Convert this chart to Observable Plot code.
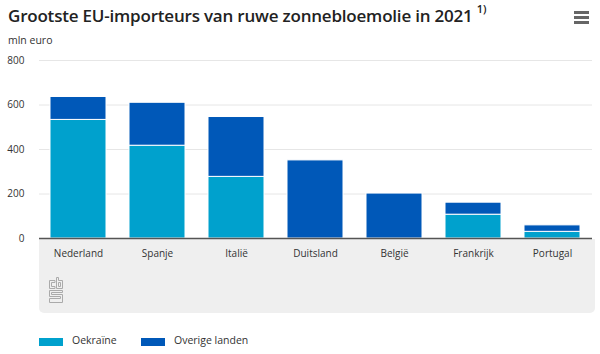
<!DOCTYPE html>
<html>
<head>
<meta charset="utf-8">
<script src="https://cdn.jsdelivr.net/npm/d3@7"></script>
<script src="https://cdn.jsdelivr.net/npm/@observablehq/plot@0.6"></script>
<style>
  body { margin: 0; background: #fff; font-family: "Open Sans", sans-serif; }
  #wrap { position: relative; width: 600px; height: 354px; overflow: hidden; }
  #title { position: absolute; left: 8px; top: 3px; font-size: 17px; font-weight: 600; color: #222; letter-spacing: -0.2px; white-space: nowrap; }
  #title sup { font-size: 11px; position: relative; top: -2px; }
  #sub { position: absolute; left: 8px; top: 33px; font-size: 10.5px; color: #333; }
  #menu { position: absolute; left: 574px; top: 11px; width: 15px; }
  #menu div { height: 3px; background: #666; margin-bottom: 2px; }
  #grey { position: absolute; left: 39px; top: 239px; width: 556px; height: 74px; background: #efefef; border-radius: 0 0 5px 5px; }
  #logo { position: absolute; left: 48px; top: 277px; }
  #chart { position: absolute; left: 0; top: 50px; }
  #legend { position: absolute; left: 0; top: 333px; width: 600px; height: 16px; font-size: 10.5px; color: #333; }
  #legend .sw { position: absolute; top: 5px; width: 24px; height: 8px; }
  #legend .lab { position: absolute; top: 0; white-space: nowrap; }
</style>
</head>
<body>
<div id="wrap">
  <div id="title">Grootste EU-importeurs van ruwe zonnebloemolie in 2021 <sup>1)</sup></div>
  <div id="sub">mln euro</div>
  <div id="menu"><div></div><div></div><div></div></div>
  <div id="grey"></div>
  <svg id="logo" width="16" height="26" viewBox="0 0 16 26" fill="none" stroke="#aaa" stroke-width="1">
    <path d="M7 3.5 H1.5 V11.5 H7 V9.5 H3.5 V5.5 H7 Z"/>
    <path d="M8.5 0.5 H10.5 V3.5 H14.5 V11.5 H8.5 Z M10.5 5.5 V9.5 H12.5 V5.5 Z"/>
    <path d="M14.5 13.5 H1.5 V19.5 H12.5 V21.5 H1.5 V25.5 H14.5 V17.5 H3.5 V15.5 H14.5 Z"/>
  </svg>
  <div id="chart"></div>
  <div id="legend"></div>
</div>
<script>
const countries = ["Nederland", "Spanje", "Italië", "Duitsland", "België", "Frankrijk", "Portugal"];
const oekraine = [533, 417, 277, 0, 0, 107, 30];
const overige = [103, 193, 269, 351, 202, 54, 29];
const seriesNames = ["Oekraïne", "Overige landen"];
const seriesColors = ["#00a1cd", "#0058b8"];
const yTicks = [0, 200, 400, 600, 800];

const data = [];
countries.forEach((c, i) => {
  data.push({country: c, series: seriesNames[0], value: oekraine[i]});
  data.push({country: c, series: seriesNames[1], value: overige[i]});
});

const plot = Plot.plot({
  width: 600,
  height: 280,
  marginTop: 10,
  marginBottom: 92,
  marginLeft: 39,
  marginRight: 8,
  style: {fontFamily: "Open Sans, sans-serif", fontSize: "10px", color: "#333", background: "transparent"},
  x: {domain: countries, paddingInner: 0.29, paddingOuter: 0.14, label: null},
  y: {domain: [0, 800], label: null},
  color: {domain: seriesNames, range: seriesColors},
  marks: [
    Plot.ruleY(yTicks.filter(d => d > 0), {stroke: "#e6e6e6", strokeWidth: 1}),
    Plot.barY(data, Plot.stackY({x: "country", y: "value", fill: "series", stroke: "#fff", strokeWidth: 1, order: seriesNames})),
    Plot.ruleY([0], {stroke: "#555", strokeWidth: 1.5}),
    Plot.axisY({ticks: yTicks, tickSize: 0, tickPadding: 15, tickFormat: d => d, fontSize: 10}),
    Plot.axisX({tickSize: 0, tickPadding: 11, fontSize: 10})
  ]
});
document.getElementById("chart").appendChild(plot);

const legend = document.getElementById("legend");
const legendX = [39, 141];
seriesNames.forEach((s, i) => {
  const sw = document.createElement("span");
  sw.className = "sw";
  sw.style.left = legendX[i] + "px";
  sw.style.background = seriesColors[i];
  const lab = document.createElement("span");
  lab.className = "lab";
  lab.style.left = (legendX[i] + 33) + "px";
  lab.textContent = s;
  legend.appendChild(sw);
  legend.appendChild(lab);
});
</script>
</body>
</html>
